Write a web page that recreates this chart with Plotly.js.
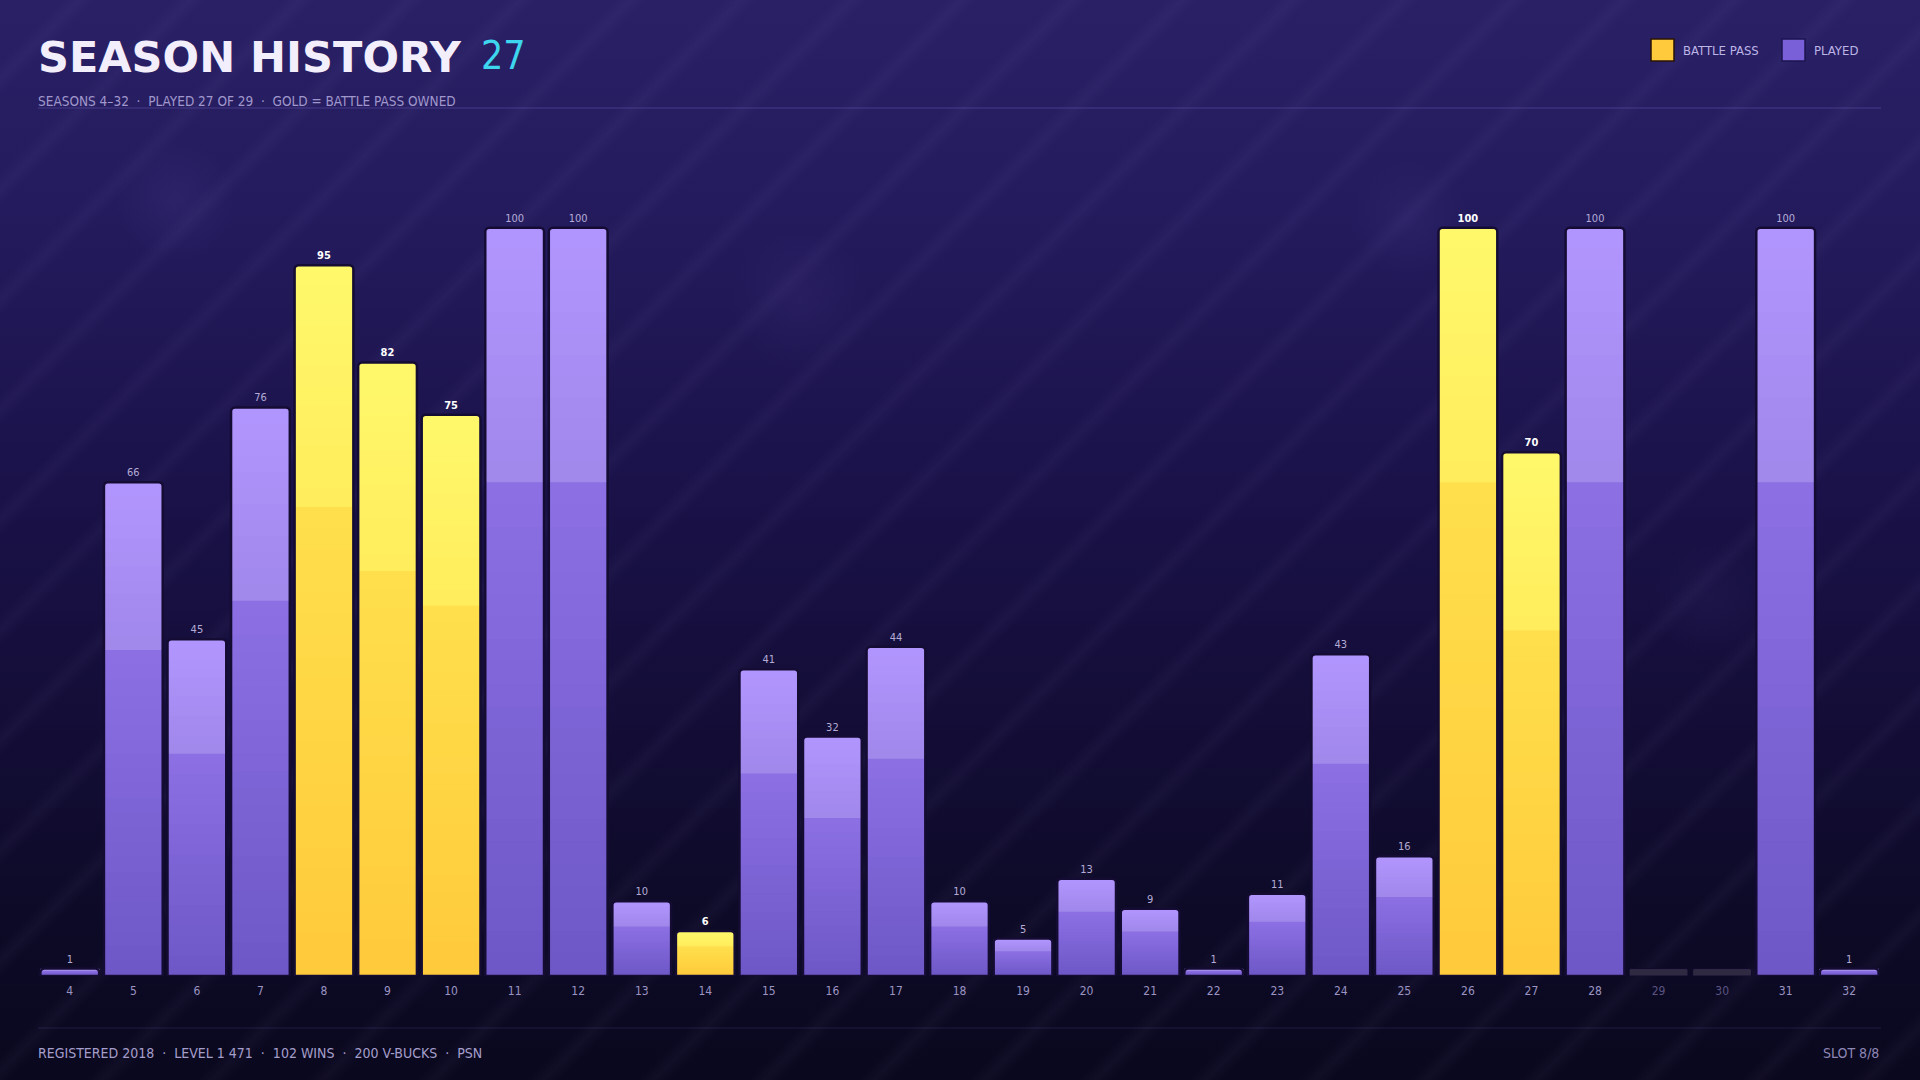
<!DOCTYPE html>
<html>
<head>
<meta charset="utf-8">
<script src="https://cdn.plot.ly/plotly-3.0.1.min.js"></script>
<style>
  html, body { margin:0; padding:0; background:#0c0922; }
  #wrap {
    position:relative; width:1920px; height:1080px; overflow:hidden;
    background:
      repeating-linear-gradient(135deg, rgba(255,255,255,0) 0px, rgba(255,255,255,0) 44px, rgba(200,185,255,0.035) 56px, rgba(255,255,255,0) 68px, rgba(255,255,255,0) 78px),
      radial-gradient(circle at 175px 200px, rgba(120,100,200,0.10) 0, rgba(120,100,200,0) 60px),
      radial-gradient(circle at 800px 300px, rgba(120,100,200,0.08) 0, rgba(120,100,200,0) 70px),
      radial-gradient(circle at 1410px 220px, rgba(120,100,200,0.08) 0, rgba(120,100,200,0) 60px),
      radial-gradient(circle at 1710px 600px, rgba(120,100,200,0.06) 0, rgba(120,100,200,0) 60px),
      linear-gradient(180deg, #2a2066 0%, #231a5c 22%, #1a1249 45%, #130d36 68%, #0d0a27 85%, #0a081e 100%);
  }
  #chart { position:absolute; left:0; top:0; width:1920px; height:1080px; }
</style>
</head>
<body>
<div id="wrap"><div id="chart"></div></div>
<script>
// ---- data ----
const seasons = [4,5,6,7,8,9,10,11,12,13,14,15,16,17,18,19,20,21,22,23,24,25,26,27,28,29,30,31,32];
const levels  = [1,66,45,76,95,82,75,100,100,10,6,41,32,44,10,5,13,9,1,11,43,16,100,70,100,null,null,100,1];
const battlePassSeasons = [8,9,10,14,26,27];
const titleText = "SEASON HISTORY";
const titleCount = "27";
const subtitleText = "SEASONS 4–32 &nbsp;·&nbsp; PLAYED 27 OF 29 &nbsp;·&nbsp; GOLD = BATTLE PASS OWNED";
const footerLeft = "REGISTERED 2018 &nbsp;·&nbsp; LEVEL 1 471 &nbsp;·&nbsp; 102 WINS &nbsp;·&nbsp; 200 V-BUCKS &nbsp;·&nbsp; PSN";
const footerRight = "SLOT 8/8";
const legendLabels = ["BATTLE PASS", "PLAYED"];

// ---- style ----
const NARROW = "DejaVu Sans Condensed, Liberation Sans Narrow, sans-serif";
const W = 1920, H = 1080;
const M = {l:38, r:39, t:150, b:104};
const plotH = H - M.t - M.b;
const plotW = W - M.l - M.r;
const yMax = 110.4;
const stubLevel = 1;

const xLabels = seasons.map(String);
const isBP = seasons.map(s => battlePassSeasons.includes(s));
const played = levels.map(v => v !== null);

function hex2rgb(h){ return [parseInt(h.slice(1,3),16),parseInt(h.slice(3,5),16),parseInt(h.slice(5,7),16)]; }
function mix(a,b,t){ const A=hex2rgb(a),B=hex2rgb(b); return 'rgb('+A.map((v,i)=>Math.round(v+(B[i]-v)*t)).join(',')+')'; }

// smooth two-band gradient built from stacked overlay layers
const purple = {top:'#b296ff', step:'#a087ea', lowTop:'#8c70e4', bottom:'#6d57c6'};
const gold   = {top:'#fff96c', step:'#ffec5c', lowTop:'#ffe04c', bottom:'#ffc93b'};
const STEP = 0.66;
const fracs = [];
for (let i = 0; i < 12; i++) fracs.push(1 - i*(1-STEP)/12);
for (let i = 0; i < 22; i++) fracs.push(STEP - i*STEP/22);
function layerColor(pal, fHi, fLo){
  const m = (fHi + fLo)/2;
  if (fLo >= STEP - 1e-9) return mix(pal.step, pal.top, (m-STEP)/(1-STEP));
  return mix(pal.bottom, pal.lowTop, m/STEP);
}

const traces = [];
fracs.forEach((f, i) => {
  const fLo = i+1 < fracs.length ? fracs[i+1] : 0;
  traces.push({
    type:'bar', x:xLabels,
    y: levels.map(v => v === null ? null : v*f),
    marker:{
      color: isBP.map(bp => layerColor(bp ? gold : purple, f, fLo)),
      line:{width:0},
      cornerradius: i === 0 ? 4 : 0
    },
    hoverinfo:'skip', showlegend:false
  });
});
// unplayed stubs
traces.push({
  type:'bar', x:xLabels,
  y: played.map(p => p ? null : stubLevel),
  marker:{color:'#2f2a42', line:{color:'#120a2e', width:1}, cornerradius:2},
  hoverinfo:'skip', showlegend:false
});
// outline + value labels
traces.push({
  type:'bar', x:xLabels,
  y: levels,
  marker:{color:'rgba(0,0,0,0)', line:{color:'#140c32', width:2.5}, cornerradius:4},
  text: levels.map(v => v === null ? '' : String(v)),
  textposition:'outside', cliponaxis:false, textangle:0,
  textfont:{
    family: NARROW, size:11,
    color: isBP.map(bp => bp ? '#ffffff' : '#b4acd6'),
    weight: isBP.map(bp => bp ? 700 : 400)
  },
  hoverinfo:'skip', showlegend:false
});

const px = x => (x - M.l) / plotW;
const py = y => (H - M.b - y) / plotH;

const tickText = seasons.map((s,i) => played[i] ? String(s) : '<span style="color:#5b5482">'+s+'</span>');

const layout = {
  width:W, height:H,
  margin:M,
  paper_bgcolor:'rgba(0,0,0,0)', plot_bgcolor:'rgba(0,0,0,0)',
  barmode:'overlay', bargap:0.075,
  showlegend:false,
  xaxis:{
    type:'category', tickvals:xLabels, ticktext:tickText,
    showgrid:false, zeroline:false, showline:false, ticks:'',
    ticklabelstandoff:6,
    tickfont:{family:NARROW, size:12, color:'#9b94c2'}, fixedrange:true
  },
  yaxis:{range:[0,yMax], visible:false, fixedrange:true},
  shapes:[
    {type:'line', xref:'paper', yref:'paper', x0:0, x1:1, y0:py(108), y1:py(108), line:{color:'rgba(130,110,210,0.35)', width:1}},
    {type:'line', xref:'paper', yref:'paper', x0:0, x1:1, y0:py(1028), y1:py(1028), line:{color:'rgba(130,110,210,0.18)', width:1}},
    {type:'rect', xref:'paper', yref:'paper', x0:px(1651), x1:px(1674), y0:py(61), y1:py(39), fillcolor:'#ffcb3c', line:{color:'#2a1406', width:1.5}},
    {type:'rect', xref:'paper', yref:'paper', x0:px(1782), x1:px(1805), y0:py(61), y1:py(39), fillcolor:'#7a60d8', line:{color:'#1d1450', width:1.5}}
  ],
  annotations:[
    {xref:'paper', yref:'paper', x:px(36), y:py(57), xanchor:'left', yanchor:'middle', showarrow:false,
     text:titleText, font:{family:'DejaVu Sans, sans-serif', size:43, color:'#f2eefc', weight:900}},
    {xref:'paper', yref:'paper', x:px(479), y:py(56), xanchor:'left', yanchor:'middle', showarrow:false,
     text:titleCount, font:{family:NARROW, size:39, color:'#3ed6ef'}},
    {xref:'paper', yref:'paper', x:px(36), y:py(101), xanchor:'left', yanchor:'middle', showarrow:false,
     text:subtitleText, font:{family:NARROW, size:13.5, color:'#a098cc'}},
    {xref:'paper', yref:'paper', x:px(1681), y:py(50), xanchor:'left', yanchor:'middle', showarrow:false,
     text:legendLabels[0], font:{family:NARROW, size:13, color:'#bdb5e6'}},
    {xref:'paper', yref:'paper', x:px(1812), y:py(50), xanchor:'left', yanchor:'middle', showarrow:false,
     text:legendLabels[1], font:{family:NARROW, size:13, color:'#bdb5e6'}},
    {xref:'paper', yref:'paper', x:px(36), y:py(1053), xanchor:'left', yanchor:'middle', showarrow:false,
     text:footerLeft, font:{family:NARROW, size:14, color:'#a59ecb'}},
    {xref:'paper', yref:'paper', x:1, y:py(1053), xanchor:'right', yanchor:'middle', showarrow:false,
     text:footerRight, font:{family:NARROW, size:14, color:'#8e87b6'}}
  ]
};

Plotly.newPlot('chart', traces, layout, {staticPlot:true, displayModeBar:false});
</script>
</body>
</html>
